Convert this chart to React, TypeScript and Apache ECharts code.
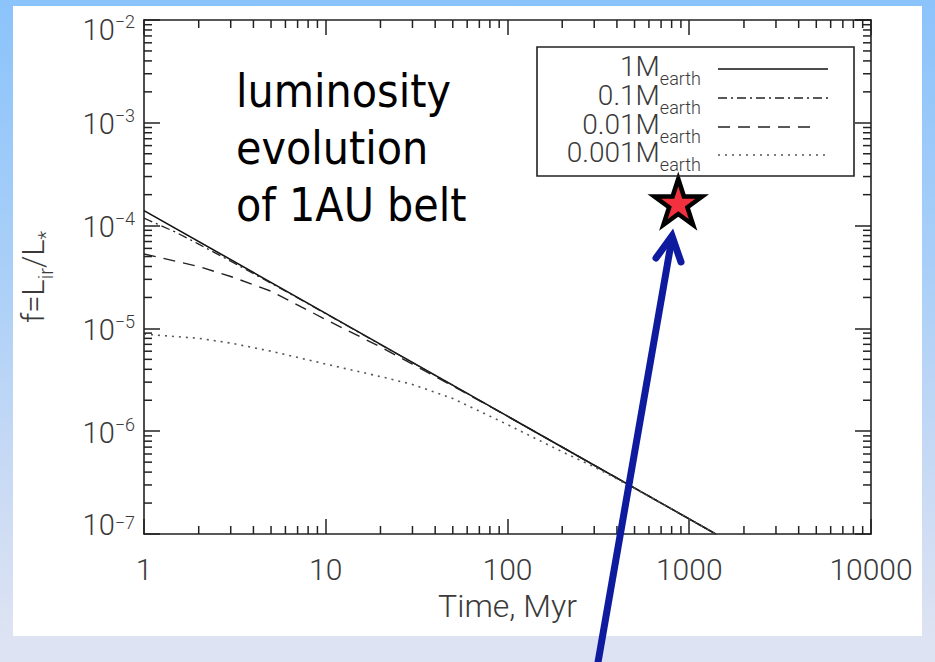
import React, { useEffect, useRef } from "react";
import * as echarts from "echarts";

// ---------------- data ----------------
const massLabels = ["1", "0.1", "0.01", "0.001"];

const timeM1 = [1, 10, 100, 1000, 1400];
const fluxM1 = [1.4e-4, 1.4e-5, 1.4e-6, 1.4e-7, 1.0e-7];

const timeM01 = [1, 1.5, 2, 3, 5, 7, 10, 100, 1000, 1400];
const fluxM01 = [1.18e-4, 8.6e-5, 6.6e-5, 4.5e-5, 2.75e-5, 1.98e-5, 1.39e-5, 1.4e-6, 1.4e-7, 1.0e-7];

const timeM001 = [1, 2, 3, 5, 10, 20, 30, 50, 100, 1000, 1400];
const fluxM001 = [5.3e-5, 4.0e-5, 3.2e-5, 2.3e-5, 1.22e-5, 6.6e-6, 4.5e-6, 2.75e-6, 1.4e-6, 1.4e-7, 1.0e-7];

const timeM0001 = [1, 2, 3, 5, 10, 20, 30, 50, 100, 200, 300, 500, 1000, 1400];
const fluxM0001 = [8.8e-6, 8.0e-6, 7.2e-6, 6.0e-6, 4.5e-6, 3.4e-6, 2.85e-6, 2.08e-6, 1.16e-6, 6.3e-7, 4.5e-7, 2.78e-7, 1.4e-7, 1.0e-7];

const starTime = [870];
const starFlux = [1.7e-4];

const xDecadeStarts = [1, 10, 100, 1000];
const yDecadeStarts = [1e-7, 1e-6, 1e-5, 1e-4, 1e-3];
const minorMantissas = [2, 3, 4, 5, 6, 7, 8, 9];

const annotationLines = ["luminosity", "evolution", "of 1AU belt"];

// ---------------- styles ----------------
const X_MIN = 1, X_MAX = 10000, Y_MIN = 1e-7, Y_MAX = 1e-2;
const AX = "#222";
const TXT = "#3a3a3a";
const FONT = "Roboto, 'Liberation Sans', sans-serif";
const dashStyles: any[] = ["solid", [9, 4, 2, 4], [12, 8], [2, 5]];
const lineColors = ["#111", "#222", "#222", "#555"];
const lineWidths = [1.6, 1.3, 1.4, 1.6];
const STAR_PATH =
  "path://M0,-1L0.2245,-0.309L0.951,-0.309L0.363,0.118L0.588,0.809L0,0.382L-0.588,0.809L-0.363,0.118L-0.951,-0.309L-0.2245,-0.309Z";

const zip = (a: number[], b: number[]) => a.map((v, i) => [v, b[i]]);

const labelTok = { fontSize: 29, fontFamily: FONT, fontWeight: 300, color: TXT };
const supTok = { fontSize: 18, fontFamily: FONT, fontWeight: 300, color: TXT };

export default function App() {
  const ref = useRef<HTMLDivElement>(null);

  useEffect(() => {
    if (!ref.current) return;
    const chart = echarts.init(ref.current, undefined, { renderer: "svg" });

    const seriesData = [
      zip(timeM1, fluxM1),
      zip(timeM01, fluxM01),
      zip(timeM001, fluxM001),
      zip(timeM0001, fluxM0001),
    ];

    const minorData: number[][] = [];
    xDecadeStarts.forEach((d) => minorMantissas.forEach((m) => minorData.push([d * m, Y_MIN, 0])));
    yDecadeStarts.forEach((d) => minorMantissas.forEach((m) => minorData.push([X_MIN, d * m, 1])));

    const lineSeries = seriesData.map((data, i) => ({
      type: "line",
      name: massLabels[i] + "Mearth",
      data,
      showSymbol: false,
      symbol: "none",
      silent: true,
      z: 3,
      lineStyle: { type: dashStyles[i], color: lineColors[i], width: lineWidths[i] },
    }));

    const axisCommon = {
      axisLine: { show: true, lineStyle: { color: AX, width: 1.6 } },
      axisTick: { show: true, inside: true, length: 15, lineStyle: { color: AX, width: 1.5 } },
      splitLine: { show: false },
      minorTick: { show: false },
    };

    const legendX = 537, legendY = 47, rowYs = [69, 98, 127, 155];
    const legendGraphics: any[] = [
      {
        type: "rect",
        shape: { x: legendX, y: legendY, width: 317, height: 129 },
        style: { fill: "none", stroke: AX, lineWidth: 1.6 },
        z: 50,
      },
    ];
    massLabels.forEach((m, i) => {
      legendGraphics.push({
        type: "text",
        z: 50,
        style: {
          text: `{m|${m}M}{s|earth}`,
          x: 701,
          y: rowYs[i] + 1,
          align: "right",
          verticalAlign: "middle",
          rich: {
            m: { fontSize: 28, fontFamily: FONT, fontWeight: 300, fill: TXT, verticalAlign: "top", padding: [0, 0, 7, 0] },
            s: { fontSize: 18, fontFamily: FONT, fontWeight: 300, fill: TXT, verticalAlign: "bottom" },
          },
        },
      });
      legendGraphics.push({
        type: "line",
        z: 50,
        shape: { x1: 718, y1: rowYs[i], x2: i === 2 ? 816 : 828, y2: rowYs[i] },
        style: {
          stroke: lineColors[i],
          lineWidth: lineWidths[i],
          lineDash: dashStyles[i] === "solid" ? null : dashStyles[i],
        },
      });
    });

    const arrowColor = "#0E1B9E";
    const arrowGraphics: any[] = [
      {
        type: "line",
        z: 100,
        shape: { x1: 597, y1: 668, x2: 672, y2: 238 },
        style: { stroke: arrowColor, lineWidth: 7, lineCap: "butt" },
      },
      {
        type: "polyline",
        z: 100,
        shape: { points: [[656, 258], [672, 236], [681, 262]] },
        style: { stroke: arrowColor, lineWidth: 7, lineCap: "round", lineJoin: "miter", fill: "none" },
      },
    ];

    const option: any = {
      animation: false,
      backgroundColor: "transparent",
      grid: { left: 144, top: 20, width: 727, height: 514, containLabel: false },
      xAxis: [
        {
          type: "log",
          logBase: 10,
          min: X_MIN,
          max: X_MAX,
          position: "bottom",
          ...axisCommon,
          axisLabel: {
            show: true,
            margin: 20,
            fontSize: 30,
            fontFamily: FONT,
            fontWeight: 300,
            color: TXT,
            formatter: (v: number) => String(Math.round(v)),
          },
          name: "Time, Myr",
          nameLocation: "middle",
          nameGap: 56,
          nameTextStyle: { fontSize: 32, fontFamily: FONT, fontWeight: 300, color: TXT },
        },
        {
          type: "log",
          logBase: 10,
          min: X_MIN,
          max: X_MAX,
          position: "top",
          ...axisCommon,
          axisLabel: { show: false },
        },
      ],
      yAxis: [
        {
          type: "log",
          logBase: 10,
          min: Y_MIN,
          max: Y_MAX,
          position: "left",
          ...axisCommon,
          axisTick: { show: true, inside: true, length: 16, lineStyle: { color: AX, width: 1.5 } },
          axisLabel: {
            show: true,
            margin: 9,
            formatter: (v: number) => {
              const e = Math.round(Math.log10(v));
              const sup = "−" + Math.abs(e);
              if (e <= -7) return `{bmin|10}{smin|${sup}}`;
              if (e >= -2) return `{bmax|10}{smax|${sup}}`;
              return `{b|10}{s|${sup}}`;
            },
            rich: {
              b: { ...labelTok, verticalAlign: "bottom", padding: [3, 0, 0, 0] },
              s: { ...supTok, verticalAlign: "top" },
              bmin: { ...labelTok, verticalAlign: "top", padding: [0, 0, 18, 0] },
              smin: { ...supTok, verticalAlign: "top", padding: [3, 0, 0, 0] },
              bmax: { ...labelTok, verticalAlign: "bottom", padding: [20, 0, 0, 0] },
              smax: { ...supTok, verticalAlign: "top", padding: [17, 0, 0, 0] },
            },
          },
          name: "{m|f=L}{s|ir}{m|/L}{s|*}",
          nameLocation: "middle",
          nameRotate: 90,
          nameGap: 88,
          nameTextStyle: {
            rich: {
              m: { fontSize: 31, fontFamily: FONT, fontWeight: 300, color: TXT, verticalAlign: "top", padding: [0, 0, 7, 0] },
              s: { fontSize: 20, fontFamily: FONT, fontWeight: 300, color: TXT, verticalAlign: "bottom" },
            },
          },
        },
        {
          type: "log",
          logBase: 10,
          min: Y_MIN,
          max: Y_MAX,
          position: "right",
          ...axisCommon,
          axisTick: { show: true, inside: true, length: 16, lineStyle: { color: AX, width: 1.5 } },
          axisLabel: { show: false },
        },
      ],
      series: [
        ...lineSeries,
        {
          type: "custom",
          name: "minor ticks",
          silent: true,
          clip: false,
          z: 4,
          xAxisIndex: 0,
          yAxisIndex: 0,
          data: minorData,
          renderItem: (_p: any, api: any) => {
            const v = api.value(0);
            const w = api.value(1);
            const kind = api.value(2);
            const st = { stroke: AX, lineWidth: 1.5 };
            if (kind === 0) {
              const b = api.coord([v, Y_MIN]);
              const t = api.coord([v, Y_MAX]);
              return {
                type: "group",
                children: [
                  { type: "line", shape: { x1: b[0], y1: b[1], x2: b[0], y2: b[1] - 8 }, style: st },
                  { type: "line", shape: { x1: t[0], y1: t[1], x2: t[0], y2: t[1] + 8 }, style: st },
                ],
              };
            }
            const l = api.coord([X_MIN, w]);
            const r = api.coord([X_MAX, w]);
            return {
              type: "group",
              children: [
                { type: "line", shape: { x1: l[0], y1: l[1], x2: l[0] + 8, y2: l[1] }, style: st },
                { type: "line", shape: { x1: r[0], y1: r[1], x2: r[0] - 8, y2: r[1] }, style: st },
              ],
            };
          },
        },
        {
          type: "scatter",
          name: "observed",
          data: zip(starTime, starFlux),
          symbol: STAR_PATH,
          symbolSize: [48, 46],
          silent: true,
          clip: false,
          z: 10,
          itemStyle: {
            color: "#F2303E",
            borderColor: "#000",
            borderWidth: 4.5,
            borderJoin: "miter",
            borderMiterLimit: 10,
            opacity: 1,
          },
        },
      ],
      graphic: [
        {
          type: "text",
          z: 50,
          style: {
            text: annotationLines.join("\n"),
            x: 236,
            y: 62,
            fontSize: 46,
            lineHeight: 57,
            fontFamily: "'DejaVu Sans Condensed', 'Open Sans', 'Noto Sans', sans-serif",
            fill: "#000",
            verticalAlign: "top",
            align: "left",
          },
        },
        ...legendGraphics,
        ...arrowGraphics,
      ],
    };

    chart.setOption(option);
    return () => chart.dispose();
  }, []);

  return (
    <div
      style={{
        position: "fixed",
        left: 0,
        top: 0,
        width: 935,
        height: 662,
        background: "linear-gradient(to bottom, #8bc3fb 0%, #a9cff8 40%, #cbdbf4 75%, #dde3f2 96%, #dde3f2 100%)",
        overflow: "hidden",
      }}
    >
      <div style={{ position: "absolute", left: 13, top: 6, width: 909, height: 630, background: "#fff" }} />
      <div ref={ref} style={{ position: "absolute", left: 0, top: 0, width: 935, height: 662 }} />
    </div>
  );
}
